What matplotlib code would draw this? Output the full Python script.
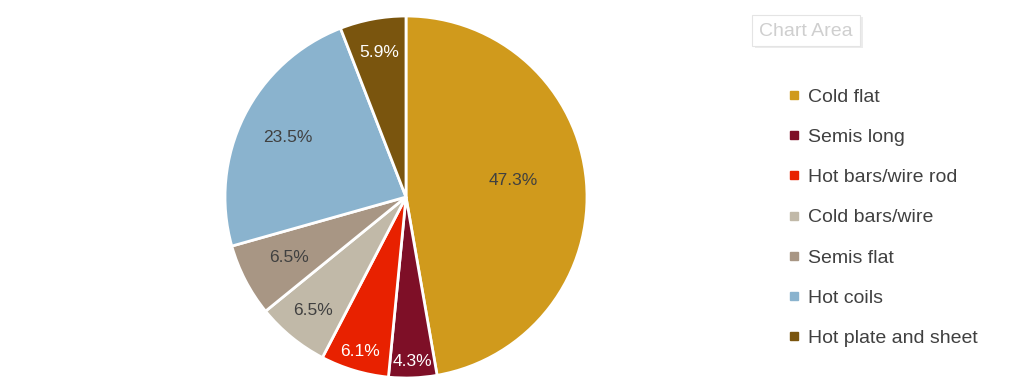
import numpy as np
import matplotlib.pyplot as plt
from matplotlib.lines import Line2D
from matplotlib.patches import Rectangle

plt.rcParams['font.family'] = ['Liberation Sans', 'DejaVu Sans']

# data
categories = ['Cold flat', 'Semis long', 'Hot bars/wire rod', 'Cold bars/wire',
              'Semis flat', 'Hot coils', 'Hot plate and sheet']
shares = [47.3, 4.3, 6.1, 6.5, 6.5, 23.5, 5.9]
colors = ['#D09A1C', '#7E0F27', '#E82100', '#C1B9A8', '#A89684', '#8AB3CE', '#7A550E']
label_colors = ['#404040', 'white', 'white', '#404040', '#404040', '#404040', 'white']
label_radius = [0.60, 0.91, 0.89, 0.81, 0.73, 0.73, 0.81]
label_shift = [4, 0, 0, 0, 0, 0, 0]   # degrees

fig = plt.figure(figsize=(10.24, 3.86), dpi=100)

# pie axes: centre (406, 197) px, radius 181 px
cx, cy, r = 406, 386 - 197, 181
ax = fig.add_axes([(cx - r) / 1024, (cy - r) / 386, 2 * r / 1024, 2 * r / 386])

wedges, _ = ax.pie(shares, colors=colors, startangle=90, counterclock=False,
                   wedgeprops=dict(edgecolor='white', linewidth=2))
ax.set_xlim(-1, 1)
ax.set_ylim(-1, 1)
ax.set_aspect('equal')
ax.axis('off')

# percentage labels
for w, s, c, rad, sh in zip(wedges, shares, label_colors, label_radius, label_shift):
    mid = np.deg2rad((w.theta1 + w.theta2) / 2 + sh)
    ax.text(rad * np.cos(mid), rad * np.sin(mid), f'{s:.1f}%',
            ha='center', va='center', fontsize=12.5, color=c)

# legend
handles = [Line2D([], [], marker='s', linestyle='', markersize=5.5,
                  markerfacecolor=col, markeredgecolor=col) for col in colors]
fig.legend(handles, categories, loc='upper left', bbox_to_anchor=(788 / 1024, 1 - 88 / 386),
           frameon=False, fontsize=14, labelcolor='#404040', handlelength=0.6,
           handletextpad=0.45, labelspacing=1.165, borderpad=0, borderaxespad=0)

# "Chart Area" tooltip with a soft shadow
fig.patches.append(Rectangle((755 / 1024, 1 - 48 / 386), 108 / 1024, 31 / 386,
                             transform=fig.transFigure, facecolor='#ececec',
                             edgecolor='none', zorder=1))
fig.patches.append(Rectangle((752 / 1024, 1 - 46 / 386), 108 / 1024, 31 / 386,
                             transform=fig.transFigure, facecolor='white',
                             edgecolor='#e4e4e4', linewidth=0.8, zorder=2))
fig.text(806 / 1024, 1 - 31 / 386, 'Chart Area', ha='center', va='center',
         fontsize=14, color='#cfcfcf', zorder=3)

fig.savefig('out.png', dpi=100)
